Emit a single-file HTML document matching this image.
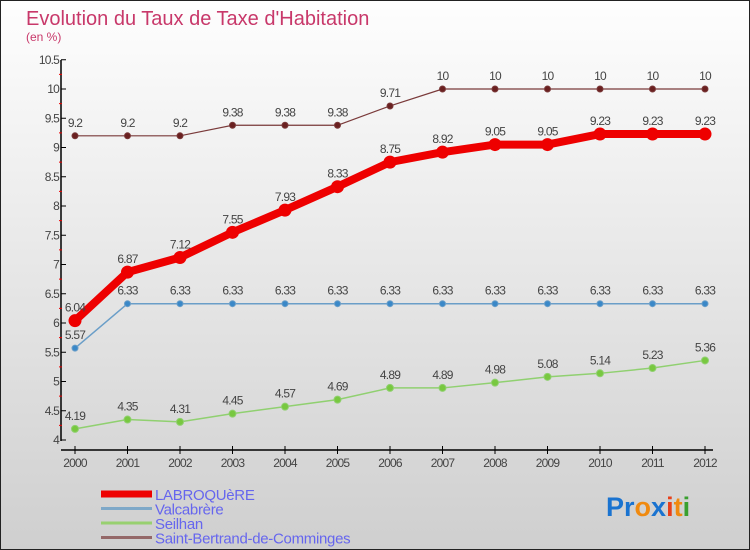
<!DOCTYPE html>
<html><head><meta charset="utf-8"><style>
body{margin:0}
#wrap{width:748px;height:548px;border:1px solid #222;background:linear-gradient(#fefefe,#cfcfcf);position:relative;font-family:"Liberation Sans",sans-serif;overflow:hidden}
</style></head><body>
<div id="wrap">
<svg id="svg" width="748" height="548" xmlns="http://www.w3.org/2000/svg">
<text x="25" y="24" font-size="20" fill="#c8386a">Evolution du Taux de Taxe d'Habitation</text>
<text x="25" y="40" font-size="12" fill="#c8386a">(en %)</text>
<g id="g"></g>
<text x="605" y="515" font-size="27" font-weight="bold"><tspan fill="#1a73d0">Pr</tspan><tspan fill="#f08a10">o</tspan><tspan fill="#1a73d0">x</tspan><tspan fill="#e8401a">i</tspan><tspan fill="#f08a10">t</tspan><tspan fill="#3aa030">i</tspan></text>
</svg></div>
<script>
const years=[2000,2001,2002,2003,2004,2005,2006,2007,2008,2009,2010,2011,2012];
const labroquere=[6.04,6.87,7.12,7.55,7.93,8.33,8.75,8.92,9.05,9.05,9.23,9.23,9.23];
const valcabrere=[5.57,6.33,6.33,6.33,6.33,6.33,6.33,6.33,6.33,6.33,6.33,6.33,6.33];
const seilhan=[4.19,4.35,4.31,4.45,4.57,4.69,4.89,4.89,4.98,5.08,5.14,5.23,5.36];
const stbertrand=[9.2,9.2,9.2,9.38,9.38,9.38,9.71,10,10,10,10,10,10];
const yTicks=[4,4.5,5,5.5,6,6.5,7,7.5,8,8.5,9,9.5,10,10.5];
const seriesNames=["LABROQUèRE","Valcabrère","Seilhan","Saint-Bertrand-de-Comminges"];
const NS="http://www.w3.org/2000/svg";
const g=document.getElementById('g');
const X=i=>74+i*52.5;
const Y=v=>439-(v-4)*58.5;
function el(t,a,p){const e=document.createElementNS(NS,t);for(const k in a)e.setAttribute(k,a[k]);(p||g).appendChild(e);return e;}
let a=el('line',{x1:60,y1:59,x2:60,y2:440,stroke:'#000','stroke-width':1.5});


a=el('line',{x1:60,y1:449,x2:712,y2:449,stroke:'#000','stroke-width':1.5});


yTicks.forEach((t,i)=>{
 el('line',{x1:60,y1:Y(t),x2:65,y2:Y(t),stroke:'#000'});
 if(i<yTicks.length-1)el('line',{x1:58,y1:Y(t+0.25),x2:61,y2:Y(t+0.25),stroke:'#e00'});
 const tx=el('text',{x:58,y:Y(t)+4,'font-size':12,'text-anchor':'end',fill:'#444','letter-spacing':'-0.8'});
 tx.textContent=String(t);
 
 
});
years.forEach((yr,i)=>{
 el('line',{x1:X(i),y1:445,x2:X(i),y2:453,stroke:'#000'});
 const tx=el('text',{x:X(i),y:466,'font-size':12,'text-anchor':'middle',fill:'#444','letter-spacing':'-0.8'});
 tx.textContent=yr;
 
 
});
function series(vals,color,w,r,name,dot){
 const p=el('polyline',{points:vals.map((v,i)=>X(i)+','+Y(v)).join(' '),fill:'none',stroke:color,'stroke-width':w,'stroke-linejoin':'round'});
 
 
 vals.forEach((v,i)=>{
  const c=el('circle',{cx:X(i),cy:Y(v),r:r,fill:dot,stroke:color,'stroke-width':1});
  
  
  const t=el('text',{x:X(i),y:Y(v)-9,'font-size':12,'text-anchor':'middle',fill:'#444','letter-spacing':'-0.8'});
  t.textContent=String(v);
  
  
 });
}
series(stbertrand,'#7a3a3a',1.2,3,'saint-bertrand','#6a2020');
series(valcabrere,'#6a9ec8',1.5,3,'valcabrere','#3a88c8');
series(seilhan,'#90d070',1.5,3.5,'seilhan','#78c840');
series(labroquere,'#ee0000',8,6,'labroquere','#ee0000');
const legColors=['#ee0000','#7ea8c8','#98d070','#946868'];
const legW=[7,3,3,3];
seriesNames.forEach((n,i)=>{
 const y=493+i*14.5;
 const l=el('line',{x1:100,y1:y,x2:151,y2:y,stroke:legColors[i],'stroke-width':legW[i]});
 
 
 const t=el('text',{x:154,y:y+6,'font-size':15,fill:'#6666ee','letter-spacing':'-0.3'});
 t.textContent=n;
 
 
});
</script>
</body></html>
